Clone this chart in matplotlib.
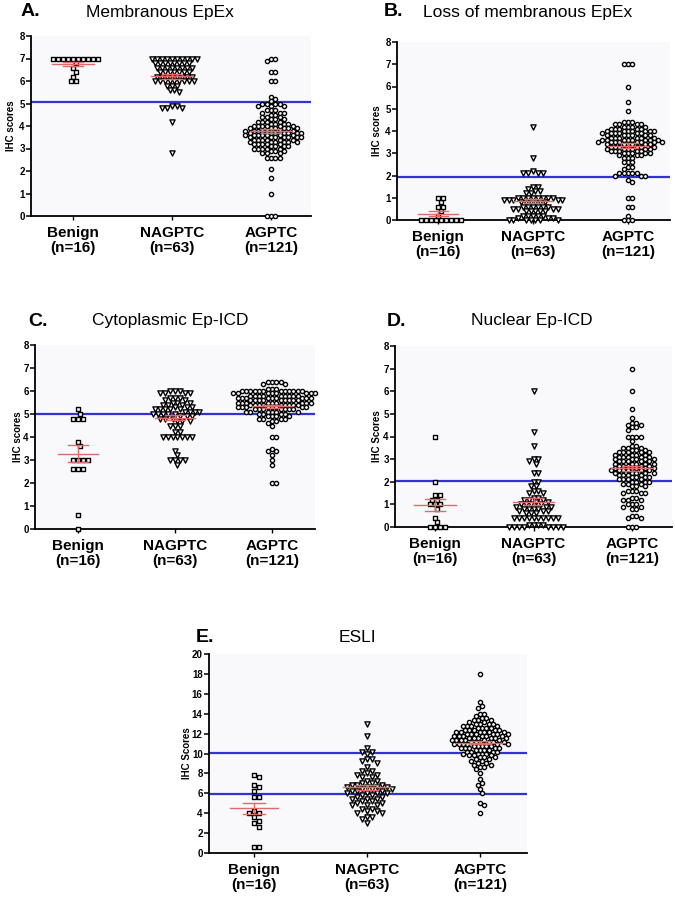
import numpy as np
import matplotlib.pyplot as plt

plt.rcParams['font.family'] = ['Liberation Sans', 'DejaVu Sans']

W, H = 675, 899
groups = ['Benign\n(n=16)', 'NAGPTC\n(n=63)', 'AGPTC\n(n=121)']

# A. Membranous EpEx
a_benign = [7.0, 7.0, 7.0, 7.0, 7.0, 7.0, 7.0, 7.0, 7.0, 7.0, 6.8, 6.6, 6.4, 6.2, 6.0, 6.0]
a_nagptc = [7.0, 7.0, 7.0, 7.0, 7.0, 7.0, 7.0, 7.0, 7.0, 7.0,
            6.8, 6.8, 6.8, 6.8, 6.8, 6.8, 6.8, 6.8,
            6.6, 6.6, 6.6, 6.6, 6.6, 6.6, 6.6, 6.6,
            6.4, 6.4, 6.4, 6.4, 6.4, 6.4, 6.4,
            6.2, 6.2, 6.2, 6.2, 6.2, 6.2, 6.2, 6.2,
            6.0, 6.0, 6.0, 6.0, 6.0, 6.0, 6.0, 6.0, 6.0,
            5.8, 5.8, 5.8, 5.6, 5.6, 5.5, 4.9, 4.9, 4.8, 4.8, 4.8, 4.2, 2.8]
a_agptc = [7.0, 7.0, 6.9, 6.4, 6.4, 6.0, 6.0, 5.3, 5.2, 5.1, 5.0, 5.0, 5.0, 5.0,
           4.9, 4.9, 4.9, 4.7, 4.7, 4.7, 4.6, 4.6, 4.6, 4.5, 4.5, 4.4, 4.4, 4.4,
           4.3, 4.3, 4.3, 4.2, 4.2, 4.2, 4.2, 4.1, 4.1, 4.1, 4.1,
           4.0, 4.0, 4.0, 4.0, 4.0, 4.0, 3.9, 3.9, 3.9, 3.9, 3.9, 3.9,
           3.8, 3.8, 3.8, 3.8, 3.8, 3.8, 3.8, 3.7, 3.7, 3.7, 3.7, 3.7, 3.7, 3.7,
           3.6, 3.6, 3.6, 3.6, 3.6, 3.6, 3.6, 3.5, 3.5, 3.5, 3.5, 3.5, 3.5, 3.5,
           3.4, 3.4, 3.4, 3.4, 3.4, 3.4, 3.3, 3.3, 3.3, 3.3, 3.3, 3.3,
           3.2, 3.2, 3.2, 3.2, 3.2, 3.1, 3.1, 3.1, 3.1, 3.0, 3.0, 3.0, 3.0, 3.0,
           2.9, 2.9, 2.9, 2.8, 2.8, 2.8, 2.6, 2.6, 2.6, 2.6, 2.1, 1.7, 1.0, 0.0, 0.0, 0.0]

# B. Loss of membranous EpEx
b_benign = [0.0, 0.0, 0.0, 0.0, 0.0, 0.0, 0.0, 0.0, 0.0, 0.2, 0.4, 0.6, 0.6, 0.8, 1.0, 1.0]
b_nagptc = [4.2, 2.8, 2.2, 2.1, 2.1, 2.1, 2.1, 1.5, 1.5, 1.4, 1.3, 1.3, 1.2, 1.2,
            1.0, 1.0, 1.0, 1.0, 1.0, 1.0, 1.0, 1.0, 0.9, 0.9, 0.9, 0.9, 0.9,
            0.8, 0.8, 0.8, 0.8, 0.8, 0.8, 0.6, 0.6, 0.6, 0.6, 0.6, 0.6,
            0.5, 0.5, 0.5, 0.5, 0.4, 0.4, 0.4, 0.4, 0.4, 0.2, 0.2, 0.2, 0.2, 0.2,
            0.1, 0.1, 0.1, 0.0, 0.0, 0.0, 0.0, 0.0, 0.0, 0.0]
b_agptc = [7.0, 7.0, 7.0, 6.0, 5.3, 4.9, 4.4, 4.4, 4.4, 4.3, 4.3, 4.3, 4.3,
           4.2, 4.2, 4.2, 4.2, 4.1, 4.1, 4.1, 4.1, 4.1,
           4.0, 4.0, 4.0, 4.0, 4.0, 4.0, 4.0, 3.9, 3.9, 3.9, 3.9, 3.9, 3.9,
           3.8, 3.8, 3.8, 3.8, 3.8, 3.8, 3.7, 3.7, 3.7, 3.7, 3.7, 3.7,
           3.6, 3.6, 3.6, 3.6, 3.6, 3.6, 3.6, 3.6, 3.5, 3.5, 3.5, 3.5, 3.5, 3.5, 3.5, 3.5,
           3.4, 3.4, 3.4, 3.4, 3.4, 3.4, 3.3, 3.3, 3.3, 3.3, 3.3, 3.3,
           3.2, 3.2, 3.2, 3.2, 3.2, 3.2, 3.1, 3.1, 3.1, 3.1, 3.1, 3.0, 3.0, 3.0, 3.0, 3.0,
           2.9, 2.9, 2.9, 2.8, 2.8, 2.8, 2.6, 2.6, 2.6, 2.4, 2.4, 2.3,
           2.1, 2.1, 2.1, 2.1, 2.1, 2.0, 2.0, 2.0, 1.8, 1.7, 1.0, 1.0, 0.6, 0.6, 0.2,
           0.0, 0.0, 0.0]

# C. Cytoplasmic Ep-ICD
c_benign = [5.2, 5.0, 4.8, 4.8, 4.8, 3.8, 3.6, 3.0, 3.0, 3.0, 3.0, 2.6, 2.6, 2.6, 0.6, 0.0]
c_nagptc = [6.0, 6.0, 6.0, 5.9, 5.9, 5.9, 5.9, 5.7, 5.7, 5.7, 5.6, 5.6, 5.5, 5.5, 5.5,
            5.4, 5.4, 5.4, 5.3, 5.3, 5.3, 5.2, 5.2, 5.2, 5.2, 5.2, 5.1, 5.1, 5.1, 5.1,
            5.0, 5.0, 5.0, 5.0, 5.0, 4.9, 4.9, 4.9, 4.8, 4.8, 4.8, 4.7, 4.7, 4.7,
            4.5, 4.5, 4.5, 4.2, 4.2, 4.0, 4.0, 4.0, 4.0, 4.0, 4.0, 4.0,
            3.4, 3.2, 3.0, 3.0, 3.0, 3.0, 2.8]
c_agptc = [6.4, 6.4, 6.4, 6.4, 6.3, 6.3, 6.1, 6.1, 6.1,
           6.0, 6.0, 6.0, 6.0, 6.0, 6.0, 6.0, 6.0, 6.0, 6.0, 6.0, 6.0,
           5.9, 5.9, 5.9, 5.9, 5.9, 5.9, 5.9, 5.9,
           5.8, 5.8, 5.8, 5.8, 5.8, 5.8, 5.8, 5.8, 5.8,
           5.7, 5.7, 5.7, 5.7, 5.7, 5.7, 5.7, 5.7, 5.7,
           5.6, 5.6, 5.6, 5.6, 5.6, 5.6, 5.6, 5.6, 5.6,
           5.5, 5.5, 5.5, 5.5, 5.5, 5.5, 5.5, 5.5, 5.5,
           5.4, 5.4, 5.4, 5.4, 5.4, 5.4, 5.4, 5.4, 5.4,
           5.3, 5.3, 5.3, 5.3, 5.3, 5.3, 5.3, 5.3,
           5.2, 5.2, 5.2, 5.2, 5.2, 5.2, 5.2, 5.1, 5.1, 5.1, 5.1, 5.1, 5.1,
           5.0, 5.0, 5.0, 5.0, 4.9, 4.9, 4.9, 4.9, 4.8, 4.8, 4.8, 4.8,
           4.7, 4.7, 4.6, 4.5, 4.0, 4.0, 3.5, 3.4, 3.4, 3.2, 3.0, 2.8, 2.0, 2.0]

# D. Nuclear Ep-ICD
d_benign = [4.0, 2.0, 1.4, 1.4, 1.2, 1.2, 1.0, 1.0, 1.0, 0.8, 0.4, 0.2, 0.0, 0.0, 0.0, 0.0]
d_nagptc = [6.0, 4.2, 3.6, 3.0, 3.0, 2.9, 2.8, 2.4, 2.4, 2.0, 2.0, 1.8, 1.8, 1.6, 1.6,
            1.5, 1.5, 1.3, 1.3, 1.2, 1.2, 1.2, 1.1, 1.1, 1.0, 1.0, 1.0, 1.0,
            0.9, 0.9, 0.9, 0.8, 0.8, 0.8, 0.8, 0.7, 0.7, 0.7, 0.6, 0.6, 0.6,
            0.4, 0.4, 0.4, 0.4, 0.4, 0.4, 0.4, 0.4, 0.4, 0.4,
            0.1, 0.1, 0.1, 0.1, 0.0, 0.0, 0.0, 0.0, 0.0, 0.0, 0.0, 0.0]
d_agptc = [7.0, 6.0, 5.2, 4.8, 4.6, 4.6, 4.5, 4.5, 4.4, 4.4, 4.3, 4.0, 4.0, 4.0, 4.0,
           3.8, 3.6, 3.6, 3.5, 3.5, 3.5, 3.4, 3.4, 3.4, 3.3, 3.3, 3.3, 3.3, 3.3,
           3.2, 3.2, 3.2, 3.2, 3.1, 3.1, 3.1, 3.1, 3.1, 3.0, 3.0, 3.0, 3.0, 3.0,
           2.9, 2.9, 2.9, 2.9, 2.9, 2.8, 2.8, 2.8, 2.8, 2.8, 2.7, 2.7, 2.7, 2.7, 2.7,
           2.6, 2.6, 2.6, 2.6, 2.6, 2.5, 2.5, 2.5, 2.5, 2.5, 2.5,
           2.4, 2.4, 2.4, 2.4, 2.4, 2.3, 2.3, 2.3, 2.3, 2.2, 2.2, 2.2, 2.2,
           2.1, 2.1, 2.1, 2.1, 2.0, 2.0, 2.0, 2.0, 1.9, 1.9, 1.9, 1.8, 1.8, 1.8,
           1.6, 1.6, 1.6, 1.5, 1.5, 1.5, 1.3, 1.3, 1.2, 1.2, 1.2, 1.0, 1.0, 1.0,
           0.9, 0.9, 0.8, 0.8, 0.5, 0.5, 0.4, 0.4, 0.0, 0.0, 0.0]

# E. ESLI
e_benign = [7.8, 7.6, 6.8, 6.6, 6.2, 5.6, 5.6, 4.2, 4.0, 4.0, 3.6, 3.2, 3.0, 2.6, 0.6, 0.6]
e_nagptc = [13.0, 11.8, 10.6, 10.2, 10.2, 10.0, 9.4, 9.4, 9.2, 9.0, 8.6, 8.2, 8.2, 8.0,
            7.8, 7.8, 7.6, 7.6, 7.2, 7.2, 7.0, 7.0, 6.8, 6.8, 6.8, 6.6, 6.6, 6.6, 6.6,
            6.4, 6.4, 6.4, 6.2, 6.2, 6.2, 6.0, 6.0, 6.0, 6.0, 5.8, 5.8, 5.6, 5.6,
            5.4, 5.4, 5.4, 5.2, 5.2, 5.0, 5.0, 4.8, 4.8, 4.8, 4.4, 4.4, 4.2, 4.2,
            4.0, 4.0, 3.6, 3.6, 3.4, 3.0]
e_agptc = [18.0, 15.2, 14.8, 14.6, 14.0, 14.0, 13.8, 13.6, 13.6, 13.4, 13.4, 13.4,
           13.2, 13.2, 13.0, 13.0, 13.0, 13.0, 12.8, 12.8, 12.8, 12.8, 12.6, 12.6, 12.6, 12.6,
           12.4, 12.4, 12.4, 12.4, 12.4, 12.2, 12.2, 12.2, 12.2, 12.2, 12.2,
           12.0, 12.0, 12.0, 12.0, 12.0, 12.0, 11.8, 11.8, 11.8, 11.8, 11.8, 11.8,
           11.6, 11.6, 11.6, 11.6, 11.6, 11.6, 11.4, 11.4, 11.4, 11.4, 11.4, 11.4,
           11.2, 11.2, 11.2, 11.2, 11.2, 11.2, 11.0, 11.0, 11.0, 11.0, 11.0, 11.0,
           10.8, 10.8, 10.8, 10.8, 10.8, 10.6, 10.6, 10.6, 10.6, 10.6,
           10.4, 10.4, 10.4, 10.4, 10.2, 10.2, 10.2, 10.2, 10.0, 10.0, 10.0, 10.0,
           9.8, 9.8, 9.8, 9.6, 9.6, 9.6, 9.4, 9.4, 9.2, 9.2, 9.0, 9.0, 8.8, 8.8,
           8.6, 8.6, 8.4, 8.0, 7.4, 7.0, 6.8, 6.4, 6.0, 5.0, 4.8, 4.0]

cutoff_a = [5.05]
cutoff_b = [1.95]
cutoff_c = [5.0]
cutoff_d = [2.05]
cutoff_e = [10.1, 5.9]

markers = [('s', 11, 5.0), ('v', 14, 4.9), ('o', 9, 4.3)]
blue = '#3232d2'
red = '#e06a6a'

fig = plt.figure(figsize=(6.75, 8.99), dpi=100)


def swarm(vals, ppy, d):
    # simple beeswarm in pixel space
    vals = np.asarray(vals, dtype=float)
    order = np.argsort(-vals, kind='stable')
    xs = np.zeros(len(vals))
    px, py = [], []
    steps = [0.0]
    for k in range(1, 40):
        steps += [k * d / 2, -k * d / 2]
    for i in order:
        y = vals[i] * ppy
        for s in steps:
            ok = True
            for xx, yy in zip(px, py):
                if (xx - s) ** 2 + (yy - y) ** 2 < (d * 0.97) ** 2:
                    ok = False
                    break
            if ok:
                break
        xs[i] = s
        px.append(s)
        py.append(y)
    return xs


def panel(box, c0, step, ymax, ytick_step, data, cutoffs, ylabel, ylab_x,
          letter, letter_xy, title, title_xy):
    l, r, t, b = box
    ax = fig.add_axes([l / W, 1 - b / H, (r - l) / W, (b - t) / H])
    ax.set_facecolor('#f9f9fb')
    xmin = -(c0 - l) / step
    xmax = (r - c0) / step
    ax.set_xlim(xmin, xmax)
    ax.set_ylim(0, ymax)
    ppx = step
    ppy = (b - t) / ymax
    for gi, vals in enumerate(data):
        m, s, d = markers[gi]
        offs = swarm(vals, ppy, d)
        ax.scatter(gi + offs / ppx, vals, marker=m, s=s, facecolors='white',
                   edgecolors='black', linewidths=1.0, clip_on=False, zorder=3)
        mean = np.mean(vals)
        sem = np.std(vals, ddof=1) / np.sqrt(len(vals))
        ax.plot([gi - 0.21, gi + 0.21], [mean, mean], color=red, lw=1.0, zorder=4)
        ax.plot([gi - 0.1, gi + 0.1], [mean + sem, mean + sem], color=red, lw=1.0, zorder=4)
        ax.plot([gi - 0.1, gi + 0.1], [mean - sem, mean - sem], color=red, lw=1.0, zorder=4)
        ax.plot([gi, gi], [mean - sem, mean + sem], color=red, lw=1.0, zorder=4)
    for c in cutoffs:
        ax.axhline(c, color=blue, lw=1.6, zorder=2)
    ax.set_yticks(np.arange(0, ymax + 0.01, ytick_step))
    ax.set_xticks([0, 1, 2])
    ax.set_xticklabels(groups, fontsize=11, fontweight='bold', linespacing=1.1)
    for lab in ax.get_yticklabels():
        lab.set_fontsize(7)
        lab.set_fontweight('bold')
    ax.tick_params(axis='y', length=3.5, width=1.1, pad=1)
    ax.tick_params(axis='x', length=3, width=1.0, pad=4)
    for sp in ['top', 'right']:
        ax.spines[sp].set_visible(False)
    for sp in ['left', 'bottom']:
        ax.spines[sp].set_linewidth(1.3)
    fig.text(ylab_x / W, 1 - ((t + b) / 2) / H, ylabel, rotation=90, ha='center',
             va='center', fontsize=7, fontweight='bold')
    fig.text(letter_xy[0] / W, 1 - letter_xy[1] / H, letter, ha='left', va='center',
             fontsize=14, fontweight='bold')
    fig.text(title_xy[0] / W, 1 - title_xy[1] / H, title, ha='center', va='center',
             fontsize=12.5)
    return ax


panel((31, 311, 36, 216), 73, 99, 8, 1, [a_benign, a_nagptc, a_agptc], cutoff_a,
      'IHC scores', 11, 'A.', (21, 12), 'Membranous EpEx', (160, 12))
panel((397, 670, 42, 220), 438, 95, 8, 1, [b_benign, b_nagptc, b_agptc], cutoff_b,
      'IHC scores', 377, 'B.', (384, 12), 'Loss of membranous EpEx', (528, 12))
panel((35, 315, 345, 529), 78, 97, 8, 1, [c_benign, c_nagptc, c_agptc], cutoff_c,
      'IHC scores', 18, 'C.', (28, 321), 'Cytoplasmic Ep-ICD', (170, 321))
panel((395, 672, 346, 527), 435, 98.5, 8, 1, [d_benign, d_nagptc, d_agptc], cutoff_d,
      'IHC Scores', 377, 'D.', (387, 321), 'Nuclear Ep-ICD', (532, 321))
panel((209, 527, 654, 853), 254, 113, 20, 2, [e_benign, e_nagptc, e_agptc], cutoff_e,
      'IHC Scores', 187, 'E.', (196, 637), 'ESLI', (357, 637))

fig.savefig('out.png', dpi=100)
